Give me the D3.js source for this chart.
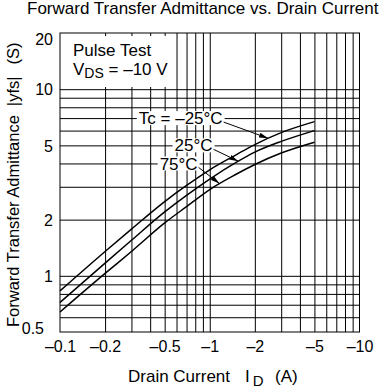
<!DOCTYPE html>
<html>
<head>
<meta charset="utf-8">
<script src="https://cdn.jsdelivr.net/npm/d3@7"></script>
<style>
  body { margin: 0; background: #fff; }
  svg { display: block; font-family: "Liberation Sans", Arial, sans-serif; }
</style>
</head>
<body>
<svg id="chart" width="385" height="392"></svg>
<script>
"use strict"

// drain current magnitude (A), axis shows it as negative
var current = [0.1, 0.2, 0.3, 0.5, 0.7, 1, 1.5, 2, 3, 5];

// |yfs| (S) for each case temperature
var yfsMinus25 = [0.83, 1.35, 1.78, 2.5, 3.05, 3.7, 4.45, 5.05, 5.85, 6.7];
var yfs25 = [0.72, 1.17, 1.55, 2.2, 2.7, 3.3, 4.05, 4.6, 5.25, 6.0];
var yfs75 = [0.64, 1.03, 1.35, 1.92, 2.35, 2.9, 3.5, 3.95, 4.55, 5.2];

var seriesNames = ["Tc = \u201325\u00b0C", "25\u00b0C", "75\u00b0C"];

var xTicks = [0.1, 0.2, 0.5, 1, 2, 5, 10];
var yTicks = [0.5, 1, 2, 5, 10, 20];
var xGrid = [0.2, 0.3, 0.4, 0.5, 0.6, 0.7, 0.8, 0.9, 1, 2, 3, 4, 5, 6, 7, 8, 9];
var yGrid = [0.6, 0.7, 0.8, 0.9, 1, 2, 3, 4, 5, 6, 7, 8, 9, 10];

var margin = { top: 33, right: 25.5, bottom: 60, left: 60 };

var svg = d3.select("#chart"),
    width = +svg.attr("width") - margin.left - margin.right,
    height = +svg.attr("height") - margin.top - margin.bottom;

var x = d3.scaleLog().domain([0.1, 10]).range([0, width]);
var y = d3.scaleLog().domain([0.5, 20]).range([height, 0]);

var g = svg.append("g")
    .attr("transform", "translate(" + margin.left + "," + margin.top + ")");

// grid
g.append("g")
    .attr("class", "grid")
    .attr("transform", "translate(0," + height + ")")
    .call(d3.axisBottom(x).tickValues(xGrid).tickSize(-height).tickFormat(""))
    .call(function(s) { s.select(".domain").remove(); });

g.append("g")
    .attr("class", "grid")
    .call(d3.axisLeft(y).tickValues(yGrid).tickSize(-width).tickFormat(""))
    .call(function(s) { s.select(".domain").remove(); });

g.selectAll(".grid line")
    .attr("stroke", "#000")
    .attr("stroke-width", 1);

g.append("rect")
    .attr("width", width)
    .attr("height", height)
    .attr("fill", "none")
    .attr("stroke", "#000")
    .attr("stroke-width", 1);

// tick labels
var xAxis = g.append("g")
    .attr("transform", "translate(0," + height + ")")
    .call(d3.axisBottom(x).tickValues(xTicks).tickSize(0).tickPadding(9)
        .tickFormat(function(d) { return "\u2013" + d; }));
xAxis.select(".domain").remove();
xAxis.selectAll("text")
    .attr("fill", "#000")
    .style("font-size", "16px");

var yAxis = g.append("g")
    .call(d3.axisLeft(y).tickValues(yTicks).tickSize(0).tickPadding(7)
        .tickFormat(function(d) { return String(d); }));
yAxis.select(".domain").remove();
yAxis.selectAll("text")
    .attr("fill", "#000")
    .style("font-size", "16px")
    .attr("dy", function(d) {
        if (d === 20) return "0.72em";
        if (d === 0.5) return "0.1em";
        return "0.36em";
    })
    .attr("x", function(d) { return d === 0.5 ? -16 : -7; });

// curves
var line = d3.line()
    .x(function(d) { return x(d[0]); })
    .y(function(d) { return y(d[1]); })
    .curve(d3.curveMonotoneX);

var series = [yfsMinus25, yfs25, yfs75];
var paths = series.map(function(vals) {
    return g.append("path")
        .datum(current.map(function(c, i) { return [c, vals[i]]; }))
        .attr("fill", "none")
        .attr("stroke", "#000")
        .attr("stroke-width", 1.5)
        .attr("d", line);
});

// legend box
var legend = g.append("g");
legend.append("rect")
    .attr("x", 1).attr("y", 3)
    .attr("width", 110).attr("height", 51)
    .attr("fill", "#fff");
legend.append("text")
    .attr("x", 13).attr("y", 23)
    .style("font-size", "17px")
    .text("Pulse Test");
var vds = legend.append("text")
    .attr("x", 13).attr("y", 42)
    .style("font-size", "17px");
vds.append("tspan").text("V");
vds.append("tspan").attr("dy", 3).style("font-size", "14px").text("DS");
vds.append("tspan").attr("dy", -3).text(" = \u201310 V");

// annotations: label centred on a grid value, arrow to the curve
svg.append("defs").append("marker")
    .attr("id", "head")
    .attr("markerUnits", "userSpaceOnUse")
    .attr("markerWidth", 9).attr("markerHeight", 6)
    .attr("refX", 9).attr("refY", 3)
    .attr("orient", "auto")
    .append("path")
    .attr("d", "M0,0.5L9,3L0,5.5Z")
    .attr("fill", "#000");

var notes = [
    { label: [0.64, 7], tip: 2.45 },
    { label: [0.78, 5], tip: 1.55 },
    { label: [0.62, 4], tip: 1.16 }
];

function pointAtX(path, px) {
    var node = path.node(), lo = 0, hi = node.getTotalLength(), p;
    for (var k = 0; k < 30; k++) {
        var mid = (lo + hi) / 2;
        p = node.getPointAtLength(mid);
        if (p.x < px) lo = mid; else hi = mid;
    }
    return p;
}

notes.forEach(function(n, i) {
    var cx = x(n.label[0]), cy = y(n.label[1]);
    var ng = g.append("g");
    var bg = ng.append("rect").attr("fill", "#fff");
    var t = ng.append("text")
        .attr("x", cx).attr("y", cy)
        .attr("dy", "0.36em")
        .attr("text-anchor", "middle")
        .style("font-size", "17px")
        .text(seriesNames[i]);
    var bb = t.node().getBBox();
    bg.attr("x", bb.x - 2).attr("y", cy - 7)
        .attr("width", bb.width + 4).attr("height", 14);
    var tip = pointAtX(paths[i], x(n.tip));
    g.append("line")
        .attr("x1", bb.x + bb.width + 1).attr("y1", cy + 4)
        .attr("x2", tip.x).attr("y2", tip.y)
        .attr("stroke", "#000")
        .attr("stroke-width", 1)
        .attr("marker-end", "url(#head)");
});

// titles
svg.append("text")
    .attr("x", 27).attr("y", 14)
    .style("font-size", "17px")
    .text("Forward Transfer Admittance vs. Drain Current");

var yl = svg.append("text")
    .attr("transform", "translate(19,327) rotate(-90)")
    .style("font-size", "16.5px");
yl.append("tspan").text("Forward Transfer Admittance");
yl.append("tspan").attr("dx", 9).text("|yfs|");
yl.append("tspan").attr("dx", 12).text("(S)");

var xl = svg.append("text")
    .attr("x", 128).attr("y", 382)
    .style("font-size", "17px");
xl.append("tspan").text("Drain Current");
xl.append("tspan").attr("x", 245).text("I");
xl.append("tspan").attr("dx", 3).attr("dy", 4).style("font-size", "15px").text("D");
xl.append("tspan").attr("x", 275).attr("dy", -4).text("(A)");
</script>
</body>
</html>
